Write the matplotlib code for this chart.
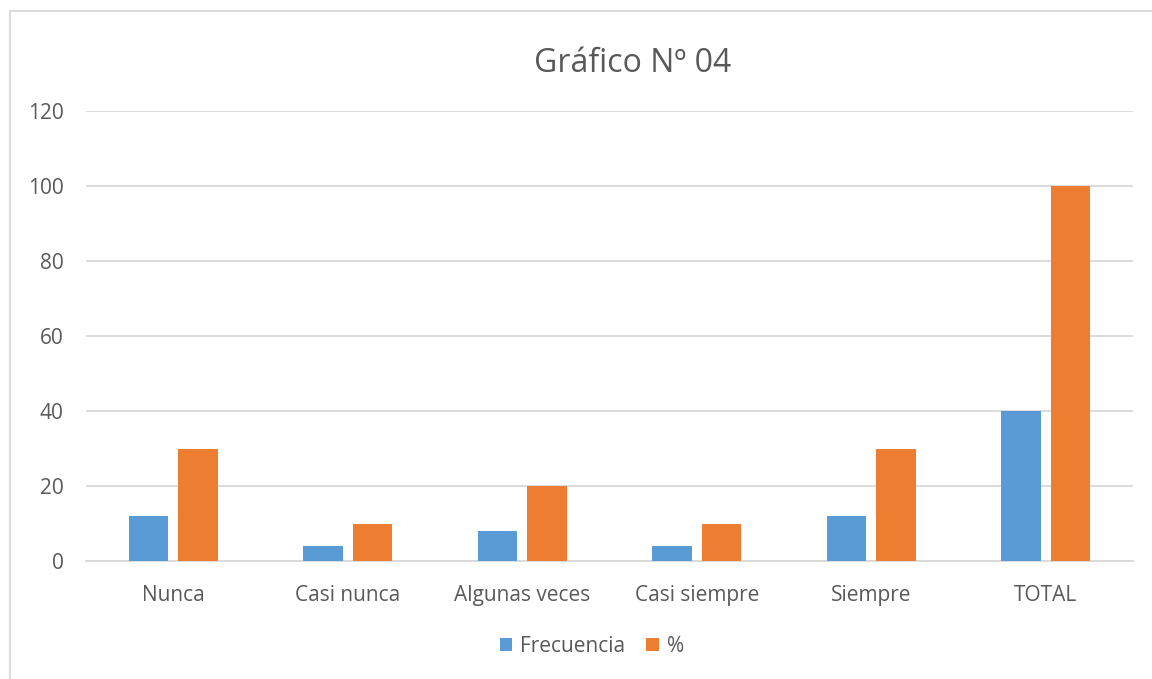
import matplotlib
matplotlib.use("Agg")
import matplotlib.pyplot as plt
import numpy as np
from matplotlib.patches import Rectangle

categories = ["Nunca", "Casi nunca", "Algunas veces", "Casi siempre", "Siempre", "TOTAL"]
frecuencia = [12, 4, 8, 4, 12, 40]
porcentaje = [30, 10, 20, 10, 30, 100]
yticks = [0, 20, 40, 60, 80, 100, 120]
title = "Gráfico Nº 04"

plt.rcParams['font.family'] = ['Open Sans', 'DejaVu Sans']
txt = '#595959'
grid = '#d9d9d9'
blue = '#5b9bd5'
orange = '#ed7d31'

fig = plt.figure(figsize=(11.52, 6.79), dpi=100)
ax = fig.add_axes([86/1152, 1-561/679, (1133-86)/1152, (561-111)/679])

x = np.arange(len(categories))
w = 0.226
off = 0.141
ax.bar(x - off, frecuencia, w, color=blue, label="Frecuencia", zorder=3)
ax.bar(x + off, porcentaje, w, color=orange, label="%", zorder=3)

ax.set_xlim(-0.5, len(categories) - 0.5)
ax.set_ylim(0, 120)
ax.set_yticks(yticks)
ax.set_xticks(x)
ax.set_xticklabels(categories)
ax.tick_params(axis='both', length=0, colors=txt, labelsize=15)
ax.tick_params(axis='y', pad=16)
ax.tick_params(axis='x', pad=17)
ax.yaxis.grid(True, color=grid, lw=1.3, zorder=0)
for s in ['top', 'right', 'left']:
    ax.spines[s].set_visible(False)
ax.spines['bottom'].set_color(grid)
ax.spines['bottom'].set_linewidth(1.3)

fig.text(633/1152, 1-63/679, title, ha='center', va='center', fontsize=23, color=txt)

leg = fig.legend(loc='center', bbox_to_anchor=(592/1152, 1-646/679), ncol=2, frameon=False,
                 fontsize=15, handlelength=0.6, handleheight=0.6, handletextpad=0.4,
                 columnspacing=1.0, labelcolor=txt)

fig.patches.append(Rectangle((9.5/1152, -0.1), 1.2, 1.1 - 11/679, transform=fig.transFigure,
                             fill=False, edgecolor=grid, lw=1.3))

fig.savefig("out.png", dpi=100)
